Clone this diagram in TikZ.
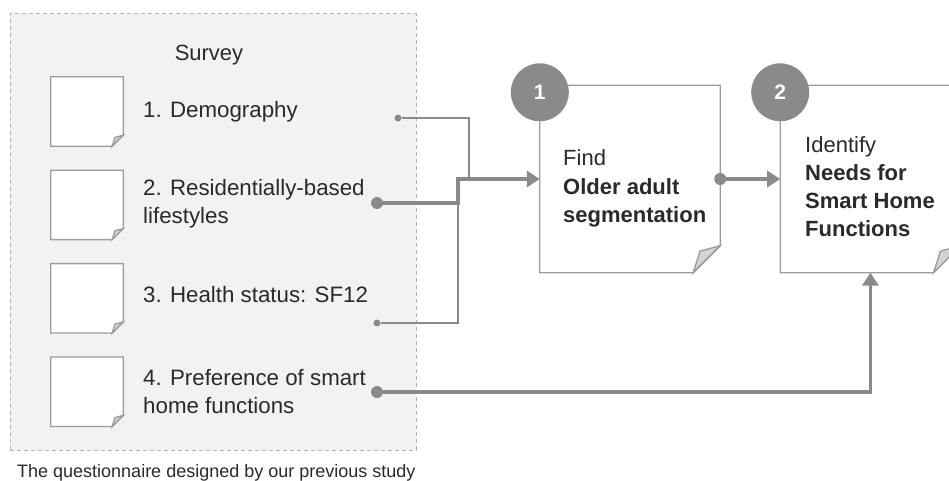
\documentclass[tikz,border=0pt]{standalone}
\usepackage{fontspec}
\setmainfont{Liberation Sans}
\usepackage{xcolor}
\usetikzlibrary{arrows.meta}
\usetikzlibrary{positioning}

\definecolor{linegray}{HTML}{8A8A8A}
\definecolor{edgegray}{HTML}{9C9C9C}
\definecolor{framegray}{HTML}{B4B4B4}
\definecolor{boxgray}{HTML}{F2F2F2}
\definecolor{foldgray}{HTML}{D3D3D3}
\definecolor{inkgray}{HTML}{2A2A2A}

% sheet outline with a folded corner
\newcommand{\sheetshape}[2]{%
	\filldraw[sheetedge, fill=white] (#1.north west) -- (#1.north east) -- ([yshift=#2]#1.south east) -- ([xshift=-#2]#1.south east) -- (#1.south west) -- cycle;
	\filldraw[sheetedge, fill=foldgray] ([yshift=#2]#1.south east) -- ([xshift=-#2]#1.south east) -- ([xshift={-0.75*#2}, yshift={0.8*#2}]#1.south east) -- cycle;
}

\begin{document}
\begin{tikzpicture}[x=1pt, y=-1pt,
	surveybox/.style={draw=framegray, fill=boxgray, line width=1pt, dash pattern=on 4pt off 3pt, minimum width=406pt, minimum height=436pt, inner sep=0pt},
	sheet/.style={minimum width=72pt, minimum height=69pt, inner sep=0pt},
	bigsheet/.style={minimum width=180pt, minimum height=187pt, inner sep=0pt},
	sheetedge/.style={draw=edgegray, line width=1.3pt, line join=miter},
	badge/.style={circle, fill=linegray, minimum size=58pt, inner sep=0pt, text=white, font=\fontsize{21}{21}\selectfont\bfseries},
	itemtext/.style={anchor=base west, inner sep=0pt, align=left, text=inkgray, font=\fontsize{22.3}{28}\selectfont},
	steptext/.style={anchor=base west, inner sep=0pt, align=left, text=inkgray, font=\fontsize{22}{28}\selectfont},
	smalldot/.style={circle, fill=linegray, minimum size=7pt, inner sep=0pt},
	bigdot/.style={circle, fill=linegray, minimum size=12pt, inner sep=0pt},
	thinlink/.style={draw=linegray, line width=1.5pt},
	thicklink/.style={draw=linegray, line width=3.6pt},
	tip/.style={-{Triangle[length=13pt, width=16pt]}}]
	
	\useasboundingbox (0,0) rectangle (949,481);
	
	%survey frame
	\node[surveybox] (survey) at (213,232) {};
	\node[anchor=base, inner sep=0pt, text=inkgray, font=\fontsize{22}{26}\selectfont] (title) at (209,61) {Survey};
	
	%small sheets
	\node[sheet] (s1) at (87,111.5) {};
	\node[sheet, below=24pt of s1] (s2) {};
	\node[sheet, below=24pt of s2] (s3) {};
	\node[sheet, below=24pt of s3] (s4) {};
	\foreach \s in {s1,s2,s3,s4} {\sheetshape{\s}{11pt}}
	
	%survey items (base = last line)
	\node[itemtext] (t1) at (143,118) {1. Demography};
	\node[itemtext] (t2) at (143,223) {2. Residentially-based\\lifestyles};
	\node[itemtext] (t3) at (143,302) {3. Health status: SF12};
	\node[itemtext] (t4) at (143,413) {4. Preference of smart\\home functions};
	
	\node[anchor=base west, inner sep=0pt, text=inkgray, font=\fontsize{18}{22}\selectfont] (caption) at (17,477) {The questionnaire designed by our previous study};
	
	%step sheets
	\node[bigsheet] (find) at (630,179) {};
	\node[bigsheet, right=60pt of find] (need) {};
	\sheetshape{find}{27pt}
	\sheetshape{need}{27pt}
	
	\node[badge] (b1) at ([yshift=-7pt]find.north west) {1};
	\node[badge] (b2) at ([yshift=-7pt]need.north west) {2};
	
	\node[steptext] (findtext) at (563,222) {Find\\\textbf{Older adult}\\\textbf{segmentation}};
	\node[steptext] (needtext) at (805,236) {Identify\\\textbf{Needs for}\\\textbf{Smart Home}\\\textbf{Functions}};
	
	%dots
	\node[smalldot] (d1) at (398,118) {};
	\node[bigdot] (d2) at (377,203) {};
	\node[smalldot] (d3) at (377,323) {};
	\node[bigdot] (d4) at (377,392) {};
	\node[bigdot] (d5) at (find.east) {};
	
	\coordinate (j1) at (469,179);
	\coordinate (j2) at (458,179);
	\coordinate (j3) at (458,203);
	
	%connectors
	\draw[thinlink] (d1) -| (j1);
	\draw[thinlink] (d3) -| (j3);
	\draw[thicklink, tip] (d2) -| (j2) -- (find.west);
	\draw[thicklink, tip] (d5) -- (need.west);
	\draw[thicklink, tip] (d4) -| (need.south);
	
\end{tikzpicture}
\end{document}
